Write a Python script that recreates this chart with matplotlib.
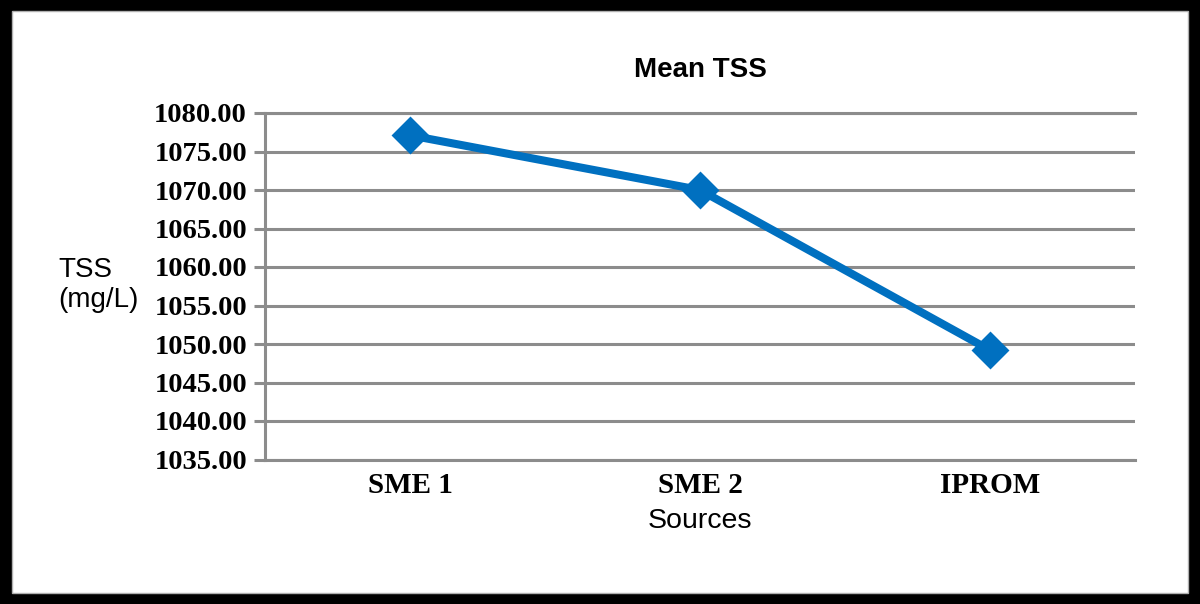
import matplotlib
matplotlib.use("Agg")
import matplotlib.pyplot as plt
from matplotlib.patches import Rectangle
from matplotlib.ticker import FormatStrFormatter
from matplotlib.transforms import ScaledTranslation

# data
sources = ["SME 1", "SME 2", "IPROM"]
mean_tss = [1077.1, 1070.0, 1049.2]
y_ticks = [1035, 1040, 1045, 1050, 1055, 1060, 1065, 1070, 1075, 1080]

BLUE = "#0070C0"
GRID = "#8c8c8c"

fig = plt.figure(figsize=(12, 6.04), dpi=100)

# black frame with white card inside
W, H = 1200, 604
fig.patches.append(Rectangle((0, 0), 1, 1, transform=fig.transFigure,
                             facecolor="black", edgecolor="none", zorder=-10))
fig.patches.append(Rectangle((12 / W, (H - 593) / H), (1188 - 12) / W, (593 - 11) / H,
                             transform=fig.transFigure, facecolor="white",
                             edgecolor="#b0b0b0", linewidth=1, zorder=-9))

ax = fig.add_axes([265 / W, (H - 459.5) / H, (1135 - 265) / W, (459.5 - 113) / H])
ax.set_facecolor("none")

x = range(len(sources))
ax.plot(x, mean_tss, color=BLUE, linewidth=5.8, marker="D", markersize=17,
        markerfacecolor=BLUE, markeredgecolor=BLUE, markeredgewidth=2,
        solid_joinstyle="round", zorder=3)

ax.set_xlim(-0.5, 2.5)
ax.set_ylim(1035, 1080)
ax.set_yticks(y_ticks)
ax.yaxis.set_major_formatter(FormatStrFormatter("%.2f"))
ax.set_xticks(list(x))
ax.set_xticklabels(sources)

ax.grid(axis="y", color=GRID, linewidth=2.2, zorder=0)
ax.set_axisbelow(True)
for s in ["top", "right", "bottom"]:
    ax.spines[s].set_visible(False)
ax.spines["left"].set_color(GRID)
ax.spines["left"].set_linewidth(2.2)

for lab in ax.get_yticklabels():
    lab.set(family="Liberation Serif", weight="bold", size=20.5)
shift = ScaledTranslation(-7 / 100, 0, fig.dpi_scale_trans)
for lab in ax.get_xticklabels():
    lab.set(family="Liberation Serif", weight="bold", size=21)
    lab.set_transform(lab.get_transform() + shift)
ax.tick_params(axis="y", length=8, width=2.2, color=GRID, pad=5)
ax.tick_params(axis="x", length=0, pad=9)

# bottom line at 1035 and top at 1080 drawn like gridlines
ax.axhline(1035, color=GRID, linewidth=2.2, zorder=1, clip_on=False)
ax.axhline(1080, color=GRID, linewidth=2.2, zorder=1, clip_on=False)

fig.text(700 / W, 1 - 70 / H, "Mean TSS", ha="center", va="center",
         family="Liberation Sans", weight="bold", size=20)
fig.text(700 / W, 1 - 521 / H, "Sources", ha="center", va="center",
         family="Liberation Sans", size=20.5)
fig.text(58 / W, 1 - 285 / H, "TSS\n(mg/L)", ha="left", va="center",
         family="Liberation Sans", size=20, linespacing=1.2)

fig.savefig("out.png", dpi=100)
